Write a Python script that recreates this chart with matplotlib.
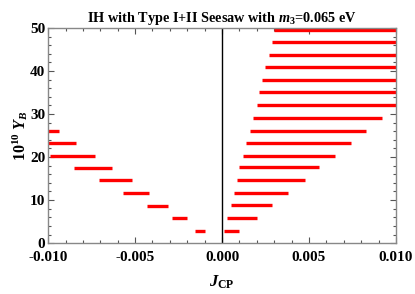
import matplotlib
matplotlib.use("Agg")
import matplotlib.pyplot as plt
from matplotlib.ticker import MultipleLocator, FormatStrFormatter

# ==============================
# DATA
# ==============================

# right branch (J_CP > 0): level of 10^10 Y_B and J_CP range
right_yb = [2.86, 5.8, 8.75, 11.7, 14.65, 17.6, 20.3, 23.2, 26.0,
            29.0, 32.0, 35.0, 37.9, 40.9, 43.8, 46.7, 49.5]
right_jmin = [0.0001, 0.0003, 0.0005, 0.0007, 0.00085, 0.0010, 0.0012, 0.0014, 0.0016,
              0.0018, 0.0020, 0.0021, 0.0023, 0.0025, 0.0027, 0.0029, 0.0030]
right_jmax = [0.0010, 0.0020, 0.0029, 0.0038, 0.0048, 0.0056, 0.0065, 0.0074, 0.0083,
              0.0092, 0.0100, 0.0100, 0.0100, 0.0100, 0.0100, 0.0100, 0.0100]

# left branch (J_CP < 0)
left_yb = [2.8, 5.8, 8.7, 11.55, 14.65, 17.5, 20.2, 23.2, 26.0]
left_jmin = [-0.00155, -0.0029, -0.0043, -0.0057, -0.0071, -0.0085, -0.0099, -0.0100, -0.0100]
left_jmax = [-0.0010, -0.0020, -0.0031, -0.0042, -0.0052, -0.0063, -0.0073, -0.0084, -0.0094]

x_ticks = [-0.010, -0.005, 0.000, 0.005, 0.010]
y_ticks = [0, 10, 20, 30, 40, 50]

# ==============================
# STYLE
# ==============================

plt.rcParams["font.family"] = ["Liberation Serif", "DejaVu Serif"]
plt.rcParams["font.weight"] = "bold"
plt.rcParams["mathtext.fontset"] = "custom"
plt.rcParams["mathtext.rm"] = "Liberation Serif:bold"
plt.rcParams["mathtext.it"] = "Liberation Serif:italic:bold"
plt.rcParams["mathtext.bf"] = "Liberation Serif:bold"

# ==============================
# PLOT
# ==============================

fig = plt.figure(figsize=(4.15, 2.94), dpi=100)
ax = fig.add_axes([0.116, 0.173, 0.838, 0.732])

ax.hlines(right_yb, right_jmin, right_jmax, color="#ff0000", linewidth=2.4)
ax.hlines(left_yb, left_jmin, left_jmax, color="#ff0000", linewidth=2.4)
ax.axvline(0, color="black", linewidth=1.0)

ax.set_xlim(-0.010, 0.010)
ax.set_ylim(0, 50)
ax.set_xticks(x_ticks)
ax.set_yticks(y_ticks)
ax.xaxis.set_major_formatter(FormatStrFormatter("%.3f"))
ax.xaxis.set_minor_locator(MultipleLocator(0.001))
ax.yaxis.set_minor_locator(MultipleLocator(2))

ax.tick_params(which="both", direction="in", top=True, right=True,
               color="#555555", width=0.8, labelsize=11)
ax.tick_params(axis="x", pad=5.5)
ax.tick_params(axis="y", pad=2)
ax.tick_params(which="major", length=4)
ax.tick_params(which="minor", length=2.2)
for s in ax.spines.values():
    s.set_color("#888888")
    s.set_linewidth(1.0)

ax.set_title(r"IH with Type I+II Seesaw with $m_3$=0.065 eV",
             fontsize=10.3, fontweight="bold", pad=4)
ax.set_xlabel(r"$J_{\mathrm{CP}}$", fontsize=12, labelpad=7)
ax.set_ylabel(r"$10^{10}\ Y_B$", fontsize=11.5, labelpad=0)

plt.savefig("out.png", dpi=100)
plt.close()
